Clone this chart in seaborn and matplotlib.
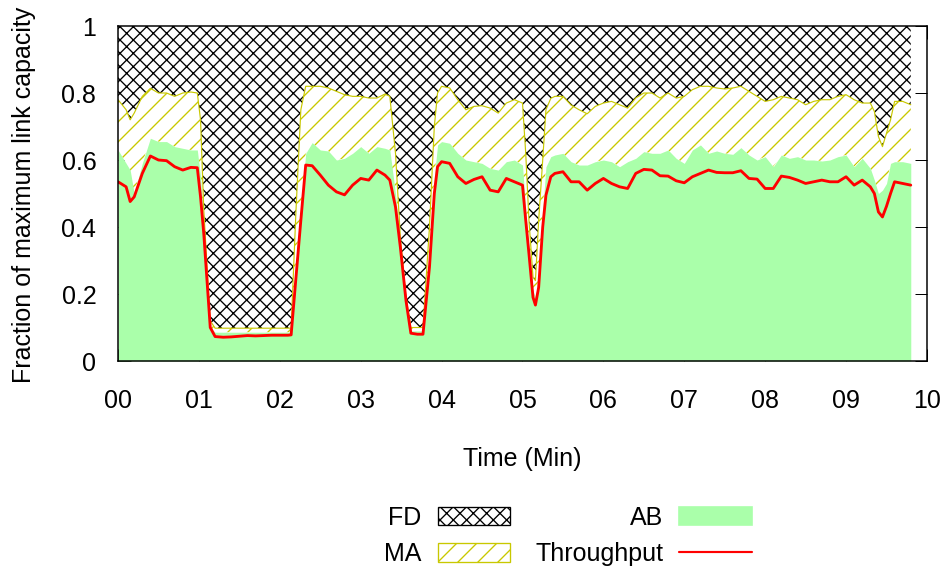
import matplotlib
matplotlib.use('Agg')
import matplotlib.pyplot as plt
import seaborn as sns
from matplotlib.patches import Patch
from matplotlib.lines import Line2D

# time axis (minutes) shared by all series
minutes = [0.0, 0.1, 0.15, 0.2, 0.3, 0.4, 0.5, 0.6, 0.7, 0.8, 0.9, 0.98,
           1.02, 1.06, 1.14, 1.2, 1.3, 1.4, 1.5, 1.6, 1.7, 1.8, 1.9,
           2.0, 2.1, 2.14, 2.2, 2.26, 2.32, 2.4, 2.5, 2.6, 2.7, 2.8, 2.9,
           3.0, 3.1, 3.2, 3.3, 3.36, 3.43, 3.49, 3.56, 3.62, 3.7, 3.77, 3.85, 3.91, 3.95,
           4.0, 4.1, 4.2, 4.3, 4.4, 4.5, 4.6, 4.7, 4.8, 4.9,
           5.0, 5.04, 5.08, 5.13, 5.16, 5.2, 5.25, 5.29, 5.35, 5.4, 5.5, 5.6, 5.7, 5.8, 5.9,
           6.0, 6.1, 6.2, 6.3, 6.4, 6.5, 6.6, 6.7, 6.8, 6.9,
           7.0, 7.1, 7.2, 7.3, 7.4, 7.5, 7.6, 7.7, 7.8, 7.9,
           8.0, 8.1, 8.2, 8.3, 8.4, 8.5, 8.6, 8.7, 8.8, 8.9,
           9.0, 9.1, 9.2, 9.3, 9.35, 9.4, 9.45, 9.5, 9.55, 9.6, 9.7, 9.8]

# top of the MA band (FD fills from here up to 1)
ma_top = [0.78, 0.75, 0.72, 0.74, 0.79, 0.814, 0.80, 0.80, 0.79, 0.80, 0.803, 0.80,
          0.72, 0.45, 0.12, 0.098, 0.098, 0.098, 0.098, 0.098, 0.098, 0.098, 0.098,
          0.098, 0.098, 0.098, 0.45, 0.75, 0.82, 0.82, 0.82, 0.815, 0.805, 0.795, 0.79,
          0.79, 0.785, 0.785, 0.797, 0.79, 0.62, 0.37, 0.19, 0.10, 0.10, 0.10, 0.40, 0.70, 0.80,
          0.82, 0.815, 0.78, 0.75, 0.76, 0.762, 0.755, 0.74, 0.77, 0.78,
          0.77, 0.62, 0.42, 0.25, 0.24, 0.42, 0.60, 0.75, 0.784, 0.79, 0.79, 0.764, 0.75, 0.738, 0.76,
          0.77, 0.775, 0.765, 0.755, 0.785, 0.80, 0.80, 0.785, 0.80, 0.785,
          0.79, 0.81, 0.82, 0.82, 0.815, 0.812, 0.815, 0.82, 0.805, 0.79,
          0.775, 0.78, 0.79, 0.785, 0.78, 0.765, 0.775, 0.78, 0.78, 0.79,
          0.795, 0.78, 0.77, 0.77, 0.745, 0.67, 0.64, 0.68, 0.72, 0.775, 0.775, 0.765]

# available bandwidth
ab_top = [0.63, 0.59, 0.57, 0.50, 0.59, 0.665, 0.655, 0.655, 0.64, 0.635, 0.63, 0.63,
          0.55, 0.40, 0.10, 0.086, 0.086, 0.086, 0.086, 0.086, 0.086, 0.086, 0.086,
          0.086, 0.086, 0.086, 0.30, 0.45, 0.62, 0.652, 0.63, 0.627, 0.60, 0.605, 0.62,
          0.64, 0.62, 0.64, 0.635, 0.63, 0.50, 0.35, 0.19, 0.09, 0.09, 0.09, 0.32, 0.55, 0.645,
          0.655, 0.65, 0.62, 0.60, 0.595, 0.59, 0.575, 0.57, 0.595, 0.60,
          0.585, 0.45, 0.34, 0.21, 0.19, 0.25, 0.45, 0.58, 0.61, 0.615, 0.62, 0.595, 0.585, 0.585, 0.595,
          0.60, 0.595, 0.58, 0.595, 0.605, 0.625, 0.62, 0.62, 0.63, 0.605,
          0.59, 0.63, 0.645, 0.62, 0.627, 0.62, 0.617, 0.637, 0.615, 0.60,
          0.61, 0.58, 0.615, 0.605, 0.61, 0.60, 0.60, 0.597, 0.60, 0.61,
          0.615, 0.58, 0.605, 0.575, 0.54, 0.50, 0.51, 0.53, 0.59, 0.595, 0.595, 0.59]

throughput = [0.535, 0.52, 0.476, 0.49, 0.56, 0.612, 0.60, 0.598, 0.58, 0.57, 0.578, 0.577,
              0.49, 0.38, 0.10, 0.073, 0.071, 0.072, 0.074, 0.076, 0.075, 0.076, 0.077,
              0.077, 0.077, 0.078, 0.25, 0.42, 0.585, 0.583, 0.555, 0.525, 0.505, 0.496, 0.525,
              0.545, 0.54, 0.57, 0.555, 0.54, 0.46, 0.34, 0.18, 0.083, 0.08, 0.08, 0.28, 0.50, 0.58,
              0.595, 0.59, 0.55, 0.53, 0.542, 0.55, 0.51, 0.505, 0.545, 0.535,
              0.525, 0.42, 0.32, 0.19, 0.167, 0.22, 0.40, 0.495, 0.55, 0.56, 0.565, 0.535, 0.535, 0.51, 0.53,
              0.545, 0.53, 0.52, 0.515, 0.56, 0.572, 0.57, 0.553, 0.552, 0.538,
              0.532, 0.55, 0.56, 0.57, 0.563, 0.562, 0.562, 0.568, 0.545, 0.543,
              0.515, 0.515, 0.552, 0.548, 0.54, 0.53, 0.535, 0.54, 0.535, 0.535,
              0.55, 0.525, 0.54, 0.52, 0.50, 0.445, 0.43, 0.462, 0.50, 0.535, 0.53, 0.525]

xtick_labels = ['00', '01', '02', '03', '04', '05', '06', '07', '08', '09', '10']
ytick_values = [0, 0.2, 0.4, 0.6, 0.8, 1]
ytick_labels = ['0', '0.2', '0.4', '0.6', '0.8', '1']
legend_labels = ['FD', 'MA', 'AB', 'Throughput']

green = '#aaffaa'
yellow = '#c8c800'

sns.set_theme(style='ticks', rc={'text.color': 'black', 'axes.labelcolor': 'black',
                                 'xtick.color': 'black', 'ytick.color': 'black',
                                 'axes.edgecolor': 'black'})
plt.rcParams['font.family'] = ['Liberation Sans', 'DejaVu Sans']
plt.rcParams['hatch.linewidth'] = 0.8

fs = 15
fig = plt.figure(figsize=(945 / 120, 578 / 120), dpi=120)
ax = fig.add_axes([0.1249, 0.3754, 0.856, 0.5796])

# stacked areas
ax.fill_between(minutes, ma_top, 1, facecolor='white', edgecolor='black', hatch='xxx', linewidth=0)
ax.fill_between(minutes, ab_top, ma_top, facecolor='white', edgecolor=yellow, hatch='//', linewidth=0)
ax.fill_between(minutes, 0, ab_top, color=green, linewidth=0)
ax.plot(minutes, ma_top, color=yellow, lw=0.7)
sns.lineplot(x=minutes, y=throughput, color='red', lw=1.7, ax=ax)

ax.set_xlim(0, 10)
ax.set_ylim(0, 1)
ax.set_xticks(range(11))
ax.set_xticklabels(xtick_labels, fontsize=fs)
ax.set_yticks(ytick_values)
ax.set_yticklabels(ytick_labels, fontsize=fs)
ax.set_axisbelow(True)
ax.tick_params(direction='in', top=True, right=True, length=7.5, width=0.6)
ax.tick_params(axis='x', pad=16.5)
ax.tick_params(axis='y', pad=13)
for sp in ax.spines.values():
    sp.set_linewidth(0.9)

ax.set_xlabel('Time (Min)', fontsize=fs)
ax.set_ylabel('Fraction of maximum link capacity', fontsize=fs)
ax.xaxis.set_label_coords(0.4994, -0.256)
ax.yaxis.set_label_coords(-0.101, 0.4955)

handles = [Patch(facecolor='white', edgecolor='black', hatch='xxx', linewidth=0.8),
           Patch(facecolor='white', edgecolor=yellow, hatch='//', linewidth=0.8),
           Patch(facecolor=green, edgecolor=green),
           Line2D([], [], color='red', lw=1.3)]
fig.legend(handles, legend_labels, loc='center', bbox_to_anchor=(568 / 945, 1 - 536 / 578),
           ncol=2, markerfirst=False, frameon=False, fontsize=fs, handlelength=2.9,
           handleheight=0.75, handletextpad=0.65, columnspacing=1.0, labelspacing=0.5,
           borderpad=0)

fig.savefig('out.png', dpi=120)
